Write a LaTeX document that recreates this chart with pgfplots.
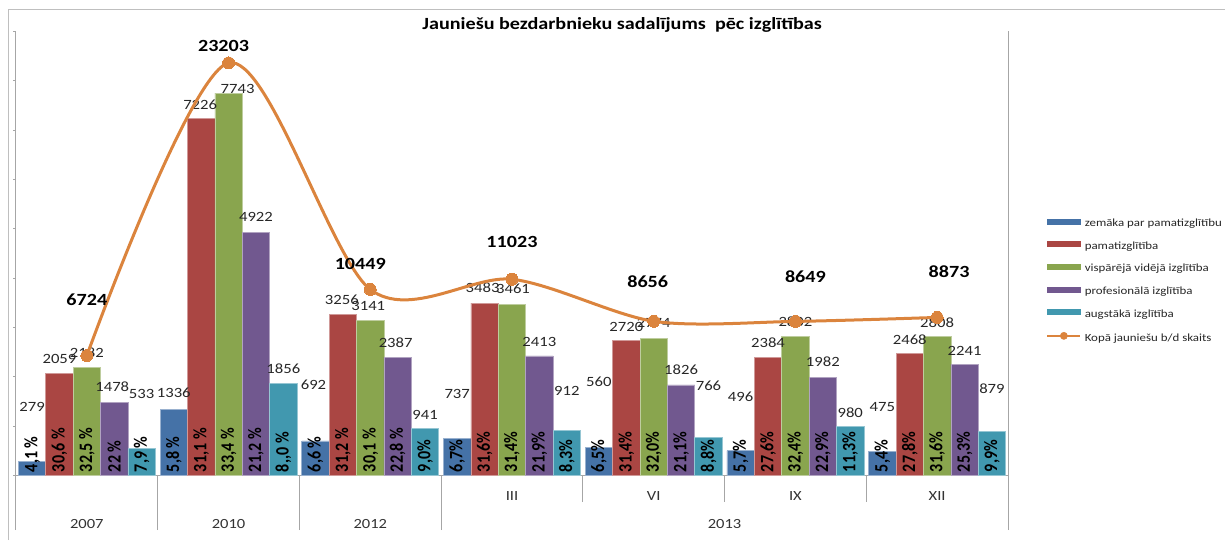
\documentclass[border=0pt]{standalone}
\usepackage{pgfplots}
\pgfplotsset{compat=1.18}
\usepackage{pgfplotstable}
\usepackage{fontspec}
\setmainfont{Carlito}[FakeStretch=1.18]
\newfontfamily\pctfont{Carlito}[FakeStretch=0.847]

\definecolor{cA}{HTML}{4572A7}
\definecolor{cB}{HTML}{AA4643}
\definecolor{cC}{HTML}{89A54E}
\definecolor{cD}{HTML}{71588F}
\definecolor{cE}{HTML}{4198AF}
\definecolor{cL}{HTML}{DB843D}
\definecolor{frm}{HTML}{BFBFBF}
\definecolor{axg}{HTML}{A6A6A6}

\pgfplotstableread{
x v pct dy dx
0 279 {4,1 \%} 54 0
1 1336 {5,8 \%} 16 0
2 692 {6,6 \%} 56 -2
3 737 {6,7\%} 45 0
4 560 {6,5\%} 66 0
5 496 {5,7\%} 54 0
6 475 {5,4\%} 45 0
}\tA
\pgfplotstableread{
x v pct dy dx
0 2059 {30,6 \%} 14 0
1 7226 {31,1 \%} 14 -1
2 3256 {31,2 \%} 15 -1
3 3483 {31,6\%} 15 -2
4 2720 {31,4\%} 14 0
5 2384 {27,6\%} 15 0
6 2468 {27,8\%} 14 0
}\tB
\pgfplotstableread{
x v pct dy dx
0 2182 {32,5 \%} 15 0
1 7743 {33,4 \%} 4 9
2 3141 {30,1 \%} 14 -2
3 3461 {31,4\%} 15 1
4 2774 {32,0\%} 15 0
5 2802 {32,4\%} 15 0
6 2808 {31,6\%} 14 0
}\tC
\pgfplotstableread{
x v pct dy dx
0 1478 {22 \%} 15 -2
1 4922 {21,2 \%} 15 0
2 2387 {22,8 \%} 15 -2
3 2413 {21,9\%} 14 0
4 1826 {21,1\%} 15 0
5 1982 {22,9\%} 15 0
6 2241 {25,3\%} 14 0
}\tD
\pgfplotstableread{
x v pct dy dx
0 533 {7,9 \%} 55 0
1 1856 {8,,0 \%} 15 0
2 941 {9,0\%} 14 0
3 912 {8,3\%} 39 0
4 766 {8,8\%} 51 0
5 980 {11,3\%} 14 0
6 879 {9,9\%} 43 0
}\tE
\pgfplotstableread{
x v dy dx
0 6724 56 0
1 23203 17 -5
2 10449 25 -10
3 11023 37 0
4 8656 40 -6
5 8649 45 10
6 8873 46 12
}\tT

\newcommand\valfont{\fontsize{10.6}{12}\selectfont}
\newcommand\pctstyle{\pctfont\bfseries\fontsize{14.2}{14.2}\selectfont}

\pgfplotsset{
  valbar/.style n args={2}{ybar, bar width=20.55pt, bar shift=#2, fill=#1, draw=#1!55!white, line width=0.5pt, forget plot,
    point meta=explicit symbolic, nodes near coords=\pgfplotspointmeta,
    visualization depends on={\thisrow{dy} \as \vdy},
    visualization depends on={\thisrow{dx} \as \vdx},
    nodes near coords style={anchor=center, inner sep=0pt, font=\valfont, text=black!85, yshift=\vdy*0.75pt, xshift={#2+\vdx*0.75pt}}},
  pctbar/.style={ybar, bar width=20.55pt, bar shift=#1, draw=none, fill=none, forget plot,
    point meta=explicit symbolic, nodes near coords=\pgfplotspointmeta,
    nodes near coords style={xshift=#1, rotate=90, anchor=west, inner sep=2pt, font=\pctstyle, text=black}},
}

\begin{document}
\begin{tikzpicture}
\useasboundingbox (0,0) rectangle (918.75pt,405pt);
\draw[frm, line width=0.75pt] (6pt,0) -- (6pt,397.5pt) -- (918.75pt,397.5pt);

\begin{axis}[
  at={(12pt,48.75pt)}, anchor=south west,
  scale only axis, width=744pt, height=333pt,
  xmin=-0.5, xmax=6.5, ymin=0, ymax=9000,
  axis lines*=left,
  axis line style={axg, line width=0.75pt},
  ytick={0,1000,...,9000}, yticklabels={},
  major tick length=2pt, tick align=outside,
  every major y tick/.append style={axg},
  xtick={0,1,2,3,4,5,6},
  xticklabels={\raisebox{-21pt}[0pt][0pt]{2007},\raisebox{-21pt}[0pt][0pt]{2010},\raisebox{-21pt}[0pt][0pt]{2012},III,VI,IX,XII},
  every major x tick/.append style={draw=none},
  minor xtick={-0.5,0.5,1.5,2.5,6.5},
  minor tick length=41.25pt,
  every minor x tick/.append style={axg, line width=0.75pt},
  xticklabel style={anchor=base, yshift=-17pt, font=\fontsize{10.5}{12}\selectfont, text=black!80},
  title={Jaunie\v{s}u bezdarbnieku sadalījums\ \ pēc izglītības},
  title style={at={(0.611,0.9955)}, anchor=center, font=\bfseries\fontsize{12.8}{15}\selectfont},
  legend style={at={(1.0343,0.584)}, anchor=north west, draw=none, fill=none,
    font=\fontsize{8.2}{9}\selectfont, text=black!85, row sep=9pt,
    nodes={inner sep=0pt, text height=6pt, text depth=2pt}, column sep=2.5pt},
  legend cell align=left,
  clip=false,
]
\addplot[valbar={cA}{-41.1pt}] table[x=x,y=v,meta=v] {\tA};
\addplot[valbar={cB}{-20.55pt}] table[x=x,y=v,meta=v] {\tB};
\addplot[valbar={cC}{0pt}] table[x=x,y=v,meta=v] {\tC};
\addplot[valbar={cD}{20.55pt}] table[x=x,y=v,meta=v] {\tD};
\addplot[valbar={cE}{41.1pt}] table[x=x,y=v,meta=v] {\tE};

\addplot[pctbar=-41.1pt] table[x=x,y expr=0,meta=pct] {\tA};
\addplot[pctbar=-20.55pt] table[x=x,y expr=0,meta=pct] {\tB};
\addplot[pctbar=0pt] table[x=x,y expr=0,meta=pct] {\tC};
\addplot[pctbar=20.55pt] table[x=x,y expr=0,meta=pct] {\tD};
\addplot[pctbar=41.1pt] table[x=x,y expr=0,meta=pct] {\tE};

\addlegendimage{legend image code/.code={\fill[cA] (0pt,0pt) rectangle (24.75pt,3.75pt);}}
\addlegendentry{zemāka par pamatizglītību}
\addlegendimage{legend image code/.code={\fill[cB] (0pt,0pt) rectangle (24.75pt,3.75pt);}}
\addlegendentry{pamatizglītība}
\addlegendimage{legend image code/.code={\fill[cC] (0pt,0pt) rectangle (24.75pt,3.75pt);}}
\addlegendentry{vispārējā vidējā izglītība}
\addlegendimage{legend image code/.code={\fill[cD] (0pt,0pt) rectangle (24.75pt,3.75pt);}}
\addlegendentry{profesionālā izglītība}
\addlegendimage{legend image code/.code={\fill[cE] (0pt,0pt) rectangle (24.75pt,3.75pt);}}
\addlegendentry{augstākā izglītība}
\addlegendimage{legend image code/.code={\draw[cL, line width=1.6pt] (0pt,1.9pt) -- (24.75pt,1.9pt); \fill[cL] (12.4pt,1.9pt) circle (2.7pt);}}
\addlegendentry{Kopā jauniešu b/d skaits}
\end{axis}

\begin{axis}[
  at={(12pt,48.75pt)}, anchor=south west,
  scale only axis, width=744pt, height=333pt,
  xmin=-0.5, xmax=6.5, ymin=0, ymax=25000,
  axis y line*=right, axis x line*=bottom,
  y axis line style={axg, line width=0.75pt},
  x axis line style={draw=none},
  ytick=\empty,
  xtick={4.5}, xticklabels={2013},
  major tick length=2pt,
  every major x tick/.append style={draw=none},
  minor xtick={3.5,4.5,5.5},
  minor tick length=20.25pt, tick align=outside,
  every minor x tick/.append style={axg, line width=0.75pt},
  xticklabel style={anchor=base, yshift=-38pt, font=\fontsize{10.5}{12}\selectfont, text=black!80},
  clip=false,
]
\addplot[cL, line width=2.25pt, smooth, mark=*, mark size=4.5pt,
  mark options={fill=cL, draw=cL, line width=0pt},
  point meta=explicit symbolic, nodes near coords=\pgfplotspointmeta,
  visualization depends on={\thisrow{dy} \as \vdy},
  visualization depends on={\thisrow{dx} \as \vdx},
  nodes near coords style={anchor=center, inner sep=0pt, text=black, font=\bfseries\fontsize{12.8}{14}\selectfont, yshift=\vdy*0.75pt, xshift=\vdx*0.75pt}]
  table[x=x,y=v,meta=v] {\tT};
\end{axis}
\end{tikzpicture}
\end{document}
